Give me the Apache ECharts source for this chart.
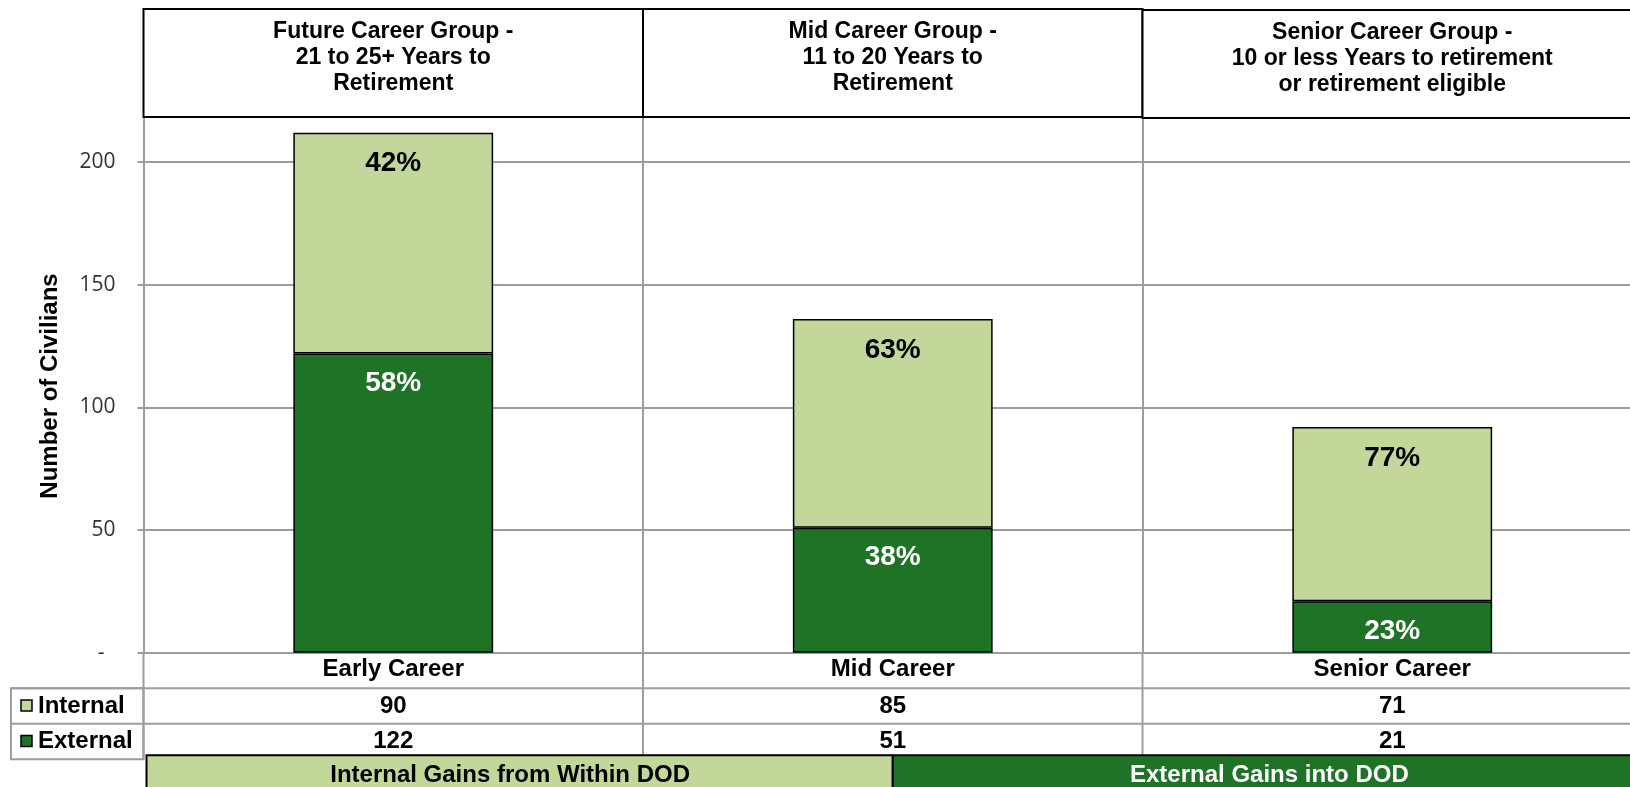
<!DOCTYPE html>
<html><head><meta charset="utf-8">
<script src="https://cdn.jsdelivr.net/npm/echarts@6/dist/echarts.min.js"></script>
<style>html,body{margin:0;padding:0;background:#fff}#c{width:1630px;height:787px}</style>
</head><body><div id="c"></div>
<script>
const categories = ['Early Career', 'Mid Career', 'Senior Career'];
const internalValues = [90, 85, 71];
const externalValues = [122, 51, 21];
const groupHeaders = [
  'Future Career Group -\n21 to 25+ Years to\nRetirement',
  'Mid Career Group -\n11 to 20 Years to\nRetirement',
  'Senior Career Group -\n10 or less Years to retirement\nor retirement eligible'
];
const yTickValues = [0, 50, 100, 150, 200];
const seriesNames = ['Internal', 'External'];
const footerLabels = ['Internal Gains from Within DOD', 'External Gains into DOD'];
const axisTitle = 'Number of Civilians';

const LIGHT = '#c4d79b', DARK = '#1f7326', GRIDC = '#9d9d9d';
const FONT = '"Liberation Sans", Arial, sans-serif';
const pct = (a, b) => Math.round(a / (a + b) * 100) + '%';

const chart = echarts.init(document.getElementById('c'), null, {renderer: 'canvas'});
const option = {
  animation: false,
  backgroundColor: '#fff',
  grid: {left: 143.5, width: 1498.5, top: 113, bottom: 134.2, containLabel: false, outerBoundsMode: 'none'},
  xAxis: {
    type: 'category', data: categories,
    axisLine: {show: true, lineStyle: {color: GRIDC, width: 2}},
    axisTick: {show: false},
    axisLabel: {show: true, margin: 5, color: '#000', fontSize: 24, fontWeight: 'bold', fontFamily: FONT, lineHeight: 24},
    splitLine: {show: true, lineStyle: {color: GRIDC, width: 2}}
  },
  yAxis: {
    type: 'value', min: 0, max: 220, interval: 50,
    axisLine: {show: true, lineStyle: {color: GRIDC, width: 2}},
    axisTick: {show: true, length: 6, lineStyle: {color: GRIDC, width: 2}, customValues: yTickValues},
    axisLabel: {
      color: '#333', fontSize: 21, fontFamily: '"Open Sans", sans-serif', margin: 28,
      customValues: yTickValues,
      formatter: v => (v === 0 ? '-  ' : (v % 50 === 0 ? String(v) : ''))
    },
    splitLine: {show: true, lineStyle: {color: GRIDC, width: 2}}
  },
  series: [
    {
      name: seriesNames[1], type: 'bar', stack: 'total', data: externalValues, barWidth: '40%',
      itemStyle: {color: DARK, borderColor: '#000', borderWidth: 1.5},
      label: {show: true, position: 'insideTop', distance: 16, color: '#fff', fontSize: 28, fontWeight: 'bold', fontFamily: FONT,
        formatter: p => pct(externalValues[p.dataIndex], internalValues[p.dataIndex])}
    },
    {
      name: seriesNames[0], type: 'bar', stack: 'total', data: internalValues, barWidth: '40%',
      itemStyle: {color: LIGHT, borderColor: '#000', borderWidth: 1.5},
      label: {show: true, position: 'insideTop', distance: 17, color: '#000', fontSize: 28, fontWeight: 'bold', fontFamily: FONT,
        formatter: p => pct(internalValues[p.dataIndex], externalValues[p.dataIndex])}
    }
  ]
};
chart.setOption(option);

const y0 = chart.convertToPixel({yAxisIndex: 0}, 0);
const xc = categories.map(c => chart.convertToPixel({xAxisIndex: 0}, c));
const band = xc[1] - xc[0];
const bounds = [xc[0] - band / 2].concat(xc.map(x => x + band / 2));
const rowH = 35.5;
const g = [];
const txt = (x, y, text, opts) => g.push(Object.assign({
  type: 'text', x: x, y: y, z: 100,
  style: Object.assign({text: text, fill: '#000', font: 'bold 24px ' + FONT, textAlign: 'center', textVerticalAlign: 'middle'}, opts || {})
}));
// header boxes
groupHeaders.forEach((h, i) => {
  const top = i === 2 ? 10 : 9;
  g.push({type: 'rect', z: 99, shape: {x: bounds[i], y: top, width: band, height: 108},
    style: {fill: '#fff', stroke: '#000', lineWidth: 2}});
  txt(xc[i], top + 49, h, {font: 'bold 23px ' + FONT, lineHeight: 26});
});
// table lines
for (let i = 0; i < 3; i++) {
  g.push({type: 'line', z: 98, shape: {x1: bounds[i], y1: y0, x2: bounds[i], y2: y0 + 3 * rowH},
    style: {stroke: GRIDC, lineWidth: 2}});
}
[1, 2].forEach(r => g.push({type: 'line', z: 98, shape: {x1: 11, y1: y0 + r * rowH, x2: 1630, y2: y0 + r * rowH},
  style: {stroke: GRIDC, lineWidth: 2}}));
g.push({type: 'rect', z: 98, shape: {x: 11, y: y0 + rowH, width: bounds[0] - 11, height: 2 * rowH},
  style: {fill: 'none', stroke: GRIDC, lineWidth: 2}});
// row headers with keys
[[seriesNames[0], LIGHT, internalValues], [seriesNames[1], DARK, externalValues]].forEach((r, k) => {
  const cy = y0 + (k + 1) * rowH + rowH / 2;
  g.push({type: 'rect', z: 100, shape: {x: 21, y: cy - 6, width: 11, height: 11},
    style: {fill: r[1], stroke: '#000', lineWidth: 1.5}});
  txt(38, cy, r[0], {textAlign: 'left'});
  r[2].forEach((v, i) => txt(xc[i], cy, String(v)));
});
// footer legend bars
const fy = y0 + 3 * rowH - 4;
g.push({type: 'rect', z: 101, shape: {x: bounds[0] + 3, y: fy, width: xc[1] - bounds[0] - 3, height: 60},
  style: {fill: LIGHT, stroke: '#000', lineWidth: 2}});
g.push({type: 'rect', z: 101, shape: {x: xc[1], y: fy, width: 1640 - xc[1], height: 60},
  style: {fill: DARK, stroke: '#000', lineWidth: 2}});
txt((bounds[0] + xc[1]) / 2 - 8, fy + 20, footerLabels[0], {});
g[g.length - 1].z = 102;
txt((xc[1] + 1630) / 2 + 8, fy + 20, footerLabels[1], {fill: '#fff'});
g[g.length - 1].z = 102;
// axis title
g.push({type: 'text', x: 50, y: 386, rotation: Math.PI / 2, z: 100,
  style: {text: axisTitle, fill: '#000', font: 'bold 24px ' + FONT, textAlign: 'center', textVerticalAlign: 'middle'}});
chart.setOption({graphic: {elements: g}});
</script></body></html>
